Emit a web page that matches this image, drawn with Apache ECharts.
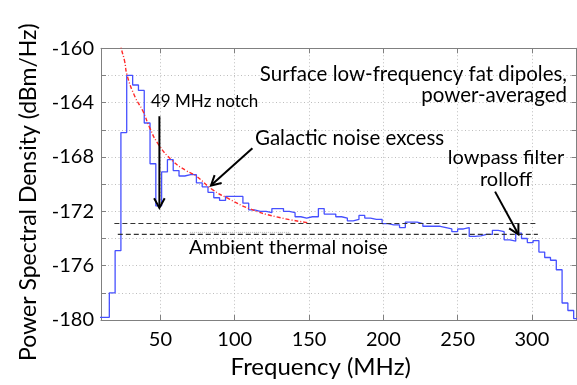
<!DOCTYPE html>
<html><head><meta charset="utf-8">
<script src="https://cdn.jsdelivr.net/npm/echarts@6/dist/echarts.min.js"></script>
<style>html,body{margin:0;padding:0;background:#fff}#c{width:577px;height:385px}</style>
</head><body><div id="c"></div>
<script>
// Bin left edges (MHz) of the measured spectrum; last entry closes the last bin
const binEdgesMHz = [7.8, 11.7, 15.6, 19.5, 23.4, 27.3, 31.3, 35.2, 39.1, 43.0,
  46.9, 50.8, 54.7, 58.6, 62.5, 66.4, 70.3, 74.2, 78.1, 82.0,
  85.9, 89.8, 93.8, 97.7, 101.6, 105.5, 109.4, 113.3, 117.2, 121.1,
  125.0, 128.9, 132.8, 136.7, 140.6, 144.5, 148.4, 152.3, 156.3, 160.2,
  164.1, 168.0, 171.9, 175.8, 179.7, 183.6, 187.5, 191.4, 195.3, 199.2,
  203.1, 207.0, 210.9, 214.8, 218.8, 222.7, 226.6, 230.5, 234.4, 238.3,
  242.2, 246.1, 250.0, 253.9, 257.8, 261.7, 265.6, 269.5, 273.4, 277.3,
  281.3, 285.2, 289.1, 293.0, 296.9, 300.8, 304.7, 308.6, 312.5, 316.4,
  320.3, 324.2, 328.1, 332.0];
// Power spectral density per bin (dBm/Hz)
const psdValues = [-179.8, -179.8, -178.0, -174.9, -166.2, -162.0, -162.7, -163.1, -165.5, -168.5,
  -171.6, -169.1, -168.2, -169.0, -169.4, -169.3, -169.3, -169.9, -170.2, -170.6,
  -171.0, -171.2, -170.9, -170.9, -170.9, -171.4, -171.9, -172.0, -172.0, -172.1,
  -171.8, -171.8, -172.0, -172.1, -172.4, -172.5, -172.4, -172.4, -171.8, -172.2,
  -172.2, -172.4, -172.5, -172.7, -172.6, -172.3, -172.5, -172.6, -172.6, -172.9,
  -173.0, -173.0, -173.2, -172.8, -172.8, -172.9, -173.1, -173.1, -173.1, -173.2,
  -173.3, -173.5, -173.3, -173.2, -173.85, -173.8, -173.7, -173.7, -173.4, -173.5,
  -174.1, -174.2, -173.6, -174.0, -174.3, -174.15, -175.0, -175.4, -175.6, -176.3,
  -178.75, -179.3, -179.9];
// Galactic noise fit (red dash-dot)
const fitFreqMHz = [22.8, 23.6, 25.8, 27.6, 33.0, 38.1, 42.6, 48.2, 58.3, 67.3, 74.0, 85.0, 96.4, 109.8, 127.8, 150.0];
const fitValues  = [-159.5, -160.0, -160.9, -162.0, -163.6, -164.6, -165.8, -167.0, -168.3, -169.0, -169.4, -170.4, -171.1, -171.8, -172.4, -172.85];
// Ambient thermal noise levels (dashed)
const thermalUpperFreq = [19.0, 303.0];
const thermalUpperVal  = [-172.9, -172.9];
const thermalLowerFreq = [21.3, 304.0];
const thermalLowerVal  = [-173.7, -173.7];
const thermalFaintFreq = [70.0, 137.0];
const thermalFaintVal  = [-173.55, -173.55];
// Tick labels
const xTickLabels = [50, 100, 150, 200, 250, 300];
const yTickLabels = [-180, -176, -172, -168, -164, -160];

const FONT = 'Lato, "Open Sans", sans-serif';
const chart = echarts.init(document.getElementById('c'), null, {renderer: 'canvas'});

const stepData = binEdgesMHz.map((e, i) => [e, psdValues[Math.min(i, psdValues.length - 1)]]);
const pairs = (xs, ys) => xs.map((x, i) => [x, ys[i]]);

const gridLine = {show: true, lineStyle: {color: '#bdbdbd', type: [1, 2.5], width: 1}};
const axisLineStyle = {show: true, lineStyle: {color: '#808080', width: 1}};

chart.setOption({
  animation: false,
  backgroundColor: '#fff',
  grid: {left: 101, top: 48.3, width: 475.5, height: 271.7, containLabel: false},
  xAxis: [{
    type: 'value', min: 10, max: 330, splitNumber: 6, position: 'bottom',
    axisLine: axisLineStyle,
    axisTick: {show: true, inside: true, length: 5, lineStyle: {color: '#808080'}},
    splitLine: gridLine,
    axisLabel: {show: true, margin: 10, color: '#000', fontFamily: FONT, fontSize: 20,
      showMinLabel: false, showMaxLabel: false,
      formatter: v => xTickLabels.indexOf(v) >= 0 ? String(v) : ''},
    name: 'Frequency (MHz)', nameLocation: 'middle', nameGap: 33,
    nameTextStyle: {color: '#000', fontFamily: FONT, fontSize: 24, padding: [0, 36, 0, 0]}
  }, {
    type: 'value', min: 10, max: 330, splitNumber: 6, position: 'top',
    axisLine: axisLineStyle,
    axisTick: {show: true, inside: true, length: 5, lineStyle: {color: '#808080'}},
    splitLine: {show: false}, axisLabel: {show: false}
  }],
  yAxis: [{
    type: 'value', min: -180, max: -160, interval: 2, position: 'left',
    axisLine: axisLineStyle,
    axisTick: {show: true, inside: true, length: 5, lineStyle: {color: '#808080'}},
    splitLine: gridLine,
    axisLabel: {show: true, margin: 7, color: '#000', fontFamily: FONT, fontSize: 20,
      formatter: v => yTickLabels.indexOf(v) >= 0 ? String(v) : ''},
    name: 'Power Spectral Density (dBm/Hz)', nameLocation: 'middle', nameGap: 61,
    nameTextStyle: {color: '#000', fontFamily: FONT, fontSize: 23, padding: [0, 16, 0, 0]}
  }, {
    type: 'value', min: -180, max: -160, interval: 2, position: 'right',
    axisLine: axisLineStyle,
    axisTick: {show: true, inside: true, length: 5, lineStyle: {color: '#808080'}},
    splitLine: {show: false}, axisLabel: {show: false}
  }],
  series: [
    {type: 'line', name: 'PSD', data: stepData, step: 'end', showSymbol: false, symbol: 'none',
      lineStyle: {color: '#4650ff', width: 1.3}, clip: true, z: 3},
    {type: 'line', name: 'Galactic fit', data: pairs(fitFreqMHz, fitValues), smooth: true, symbol: 'none',
      lineStyle: {color: '#ff2a2a', width: 1.4, type: [4, 2, 1, 2]}, clip: true, z: 4},
    {type: 'line', name: 'Thermal A', data: pairs(thermalUpperFreq, thermalUpperVal), symbol: 'none',
      lineStyle: {color: '#333', width: 1.1, type: [5, 3]}, z: 5},
    {type: 'line', name: 'Thermal B', data: pairs(thermalLowerFreq, thermalLowerVal), symbol: 'none',
      lineStyle: {color: '#333', width: 1.1, type: [5, 3]}, z: 5},
    {type: 'line', name: 'Thermal faint', data: pairs(thermalFaintFreq, thermalFaintVal), symbol: 'none',
      lineStyle: {color: '#bbb', width: 1, type: [1, 1]}, z: 2}
  ]
});

function px(f, d) { return chart.convertToPixel({gridIndex: 0}, [f, d]); }
function arrow(p0, p1) {
  const dx = p1[0] - p0[0], dy = p1[1] - p0[1], L = Math.hypot(dx, dy);
  const bx = -dx / L, by = -dy / L, a = 0.5, len = 11, c = Math.cos(a), s = Math.sin(a);
  const l1 = [p1[0] + len * (bx * c - by * s), p1[1] + len * (bx * s + by * c)];
  const l2 = [p1[0] + len * (bx * c + by * s), p1[1] + len * (-bx * s + by * c)];
  return [
    {type: 'line', shape: {x1: p0[0], y1: p0[1], x2: p1[0] + bx, y2: p1[1] + by}, style: {stroke: '#000', lineWidth: 2}, z: 10},
    {type: 'polyline', shape: {points: [l1, p1, l2]}, style: {stroke: '#000', lineWidth: 2, fill: null}, z: 10}
  ];
}
function txt(text, x, y, size, align) {
  return {type: 'text', x: x, y: y, z: 10,
    style: {text: text, fill: '#000', font: size + 'px ' + FONT, align: align, verticalAlign: 'middle',
      textAlign: align, textVerticalAlign: 'middle'}};
}
const g = [].concat(
  arrow(px(49.3, -165.0), px(49.3, -171.75)),
  arrow(px(111.9, -167.35), px(84.0, -170.1)),
  arrow(px(275.2, -170.55), px(290.9, -173.7)),
  [
    txt('Surface low-frequency fat dipoles,', 567, 74, 20.5, 'right'),
    txt('power-averaged', 567, 95, 20.5, 'right'),
    txt('49 MHz notch', 151, 102, 17, 'left'),
    txt('Galactic noise excess', 255, 138, 20.5, 'left'),
    txt('lowpass filter', 506, 158, 20, 'center'),
    txt('rolloff', 506, 180, 20, 'center'),
    txt('Ambient thermal noise', 189, 248, 20, 'left')
  ]
);
chart.setOption({graphic: g});
</script></body></html>
